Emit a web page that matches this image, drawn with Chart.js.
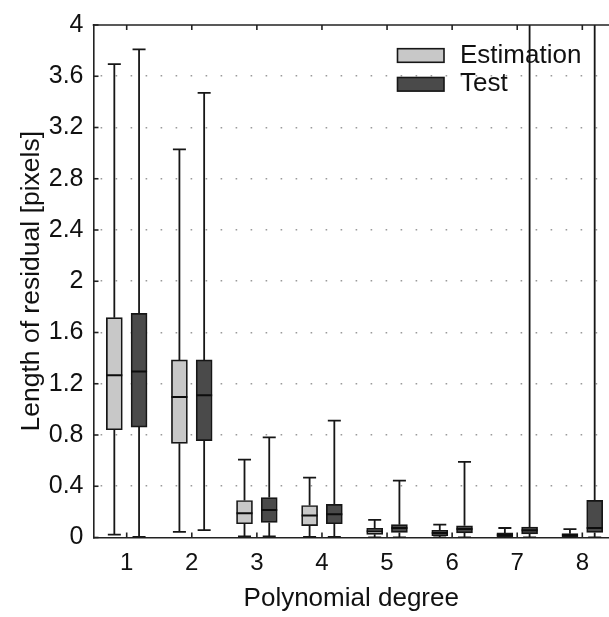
<!DOCTYPE html>
<html>
<head>
<meta charset="utf-8">
<style>
html,body{margin:0;padding:0;background:#fff;overflow:hidden}
#wrap{width:609px;height:617px;position:relative}
</style>
<script src="https://cdn.jsdelivr.net/npm/chart.js@4.4.1/dist/chart.umd.min.js"></script>
</head>
<body>
<div id="wrap"><canvas id="c" width="609" height="617"></canvas></div>
<script>
// ---- data ----
const degrees = [1, 2, 3, 4, 5, 6, 7, 8];
const seriesNames = ['Estimation', 'Test'];
const yTickValues = [0, 0.4, 0.8, 1.2, 1.6, 2, 2.4, 2.8, 3.2, 3.6, 4];
const yTickLabels = ['0', '0.4', '0.8', '1.2', '1.6', '2', '2.4', '2.8', '3.2', '3.6', '4'];

const estMin = [0.023, 0.044, 0.008, 0.005, 0.0, 0.0, 0.0, 0.0];
const estQ1  = [0.841, 0.735, 0.107, 0.092, 0.025, 0.015, 0.005, 0.005];
const estMed = [1.267, 1.097, 0.189, 0.171, 0.048, 0.036, 0.020, 0.020];
const estQ3  = [1.716, 1.386, 0.289, 0.250, 0.072, 0.056, 0.036, 0.030];
const estMax = [3.694, 3.030, 0.608, 0.467, 0.138, 0.100, 0.074, 0.066];

const testMin = [0.005, 0.057, 0.008, 0.005, 0.0, 0.0, 0.0, 0.0];
const testQ1  = [0.862, 0.756, 0.118, 0.107, 0.040, 0.036, 0.028, 0.040];
const testMed = [1.295, 1.110, 0.215, 0.182, 0.074, 0.066, 0.056, 0.074];
const testQ3  = [1.750, 1.386, 0.312, 0.258, 0.100, 0.092, 0.082, 0.290];
const testMax = [3.810, 3.470, 0.782, 0.912, 0.444, 0.590, 4.600, 4.600];

// ---- styling / layout constants ----
const FONT = "'Liberation Sans', Arial, Helvetica, sans-serif";
const INK = '#161616';
const estFill = '#c8c8c8';
const testFill = '#4a4a4a';
const groupOffset = 0.19;   // x offset of each box from the category centre
const capWidth = 0.2;       // whisker cap width in x units

const stats = [
  {min: estMin, q1: estQ1, med: estMed, q3: estQ3, max: estMax, off: -groupOffset},
  {min: testMin, q1: testQ1, med: testMed, q3: testQ3, max: testMax, off: groupOffset}
];

const boxData = (s) => degrees.map((d, i) => ({x: d + s.off, y: [s.q1[i], s.q3[i]]}));

const line = (ctx, x1, y1, x2, y2) => { ctx.beginPath(); ctx.moveTo(x1, y1); ctx.lineTo(x2, y2); ctx.stroke(); };

const clipArea = (chart) => {
  const a = chart.chartArea;
  chart.ctx.beginPath();
  chart.ctx.rect(a.left, a.top, a.right - a.left, a.bottom - a.top);
  chart.ctx.clip();
};

const boxWhiskers = {
  id: 'boxWhiskers',
  beforeDatasetsDraw(chart) {
    const {ctx, scales: {x, y}} = chart;
    ctx.save();
    clipArea(chart);
    ctx.strokeStyle = INK;
    ctx.lineWidth = 1.8;
    const capHalf = (x.getPixelForValue(capWidth) - x.getPixelForValue(0)) / 2;
    stats.forEach((s, di) => {
      chart.getDatasetMeta(di).data.forEach((bar, i) => {
        const cx = bar.x;
        line(ctx, cx, y.getPixelForValue(s.q3[i]), cx, y.getPixelForValue(s.max[i]));
        line(ctx, cx, y.getPixelForValue(s.q1[i]), cx, y.getPixelForValue(s.min[i]));
        line(ctx, cx - capHalf, y.getPixelForValue(s.max[i]), cx + capHalf, y.getPixelForValue(s.max[i]));
        line(ctx, cx - capHalf, y.getPixelForValue(s.min[i]), cx + capHalf, y.getPixelForValue(s.min[i]));
      });
    });
    ctx.restore();
  },
  afterDatasetsDraw(chart) {
    const {ctx, scales: {y}} = chart;
    ctx.save();
    clipArea(chart);
    ctx.strokeStyle = '#0d0d0d';
    ctx.lineWidth = 2;
    stats.forEach((s, di) => {
      chart.getDatasetMeta(di).data.forEach((bar, i) => {
        const yy = y.getPixelForValue(s.med[i]);
        line(ctx, bar.x - bar.width / 2, yy, bar.x + bar.width / 2, yy);
      });
    });
    ctx.restore();
  }
};

const frameAndTicks = {
  id: 'frameAndTicks',
  afterDraw(chart) {
    const {ctx, chartArea: a, scales: {x, y}} = chart;
    ctx.save();
    ctx.strokeStyle = '#222';
    ctx.lineWidth = 1.6;
    line(ctx, a.left - 0.8, a.top, a.right, a.top);
    const tl = 5;
    degrees.forEach(d => {
      const px = x.getPixelForValue(d);
      line(ctx, px, a.bottom, px, a.bottom - tl);
      line(ctx, px, a.top, px, a.top + tl);
    });
    yTickValues.forEach(v => {
      const py = y.getPixelForValue(v);
      line(ctx, a.left, py, a.left + tl, py);
    });
    ctx.restore();
  }
};

const boxLegend = {
  id: 'boxLegend',
  afterDraw(chart) {
    const {ctx} = chart;
    const fills = [estFill, testFill];
    const rows = [55.5, 84.3];
    ctx.save();
    ctx.font = '26px ' + FONT;
    ctx.textBaseline = 'middle';
    ctx.textAlign = 'left';
    rows.forEach((ry, i) => {
      ctx.fillStyle = fills[i];
      ctx.fillRect(397.5, ry - 6.8, 46.5, 13.6);
      ctx.strokeStyle = INK;
      ctx.lineWidth = 1.6;
      ctx.strokeRect(397.5, ry - 6.8, 46.5, 13.6);
      ctx.fillStyle = '#111';
      ctx.fillText(seriesNames[i], 460, ry);
    });
    ctx.restore();
  }
};

new Chart(document.getElementById('c'), {
  type: 'bar',
  data: {
    datasets: [
      {label: seriesNames[0], data: boxData(stats[0]), backgroundColor: estFill, borderColor: INK, borderWidth: 1.7, borderSkipped: false, barThickness: 16, grouped: false},
      {label: seriesNames[1], data: boxData(stats[1]), backgroundColor: testFill, borderColor: INK, borderWidth: 1.7, borderSkipped: false, barThickness: 16, grouped: false}
    ]
  },
  options: {
    responsive: false,
    animation: false,
    events: [],
    layout: {padding: {top: 17.3, right: 0, bottom: 0, left: 0}},
    plugins: {legend: {display: false}, tooltip: {enabled: false}},
    scales: {
      x: {
        type: 'linear',
        min: 0.49,
        max: 8.41,
        offset: false,
        afterBuildTicks: (s) => { s.ticks = degrees.map(v => ({value: v})); },
        afterFit: (s) => { s.height = 617 - 537.5; },
        grid: {display: true, color: 'rgba(0,0,0,0)', drawTicks: false},
        border: {display: true, color: '#222', width: 1.6},
        ticks: {
          padding: 11, color: '#111', autoSkip: false, maxRotation: 0,
          font: {family: FONT, size: 24},
          callback: (v) => String(v)
        },
        title: {display: true, text: 'Polynomial degree', color: '#111', font: {family: FONT, size: 26}, padding: {top: 3, bottom: 3}}
      },
      y: {
        min: 0,
        max: 4,
        afterBuildTicks: (s) => { s.ticks = yTickValues.map(v => ({value: v})); },
        afterFit: (s) => { s.width = 93.5; },
        grid: {
          drawTicks: false, lineWidth: 1.6,
          color: (c) => (c.tick && (c.tick.value === 0 || c.tick.value === 4)) ? 'rgba(0,0,0,0)' : '#9a9a9a'
        },
        border: {display: true, color: '#222', width: 1.6, dash: [1.6, 13.4], dashOffset: -6},
        ticks: {
          padding: 10, color: '#111',
          font: {family: FONT, size: 25},
          callback: (v, i) => yTickLabels[i]
        },
        title: {display: true, text: 'Length of residual [pixels]', color: '#111', font: {family: FONT, size: 26.5}, padding: {top: 15.5, bottom: 15.5}}
      }
    }
  },
  plugins: [boxWhiskers, frameAndTicks, boxLegend]
});
</script>
</body>
</html>
